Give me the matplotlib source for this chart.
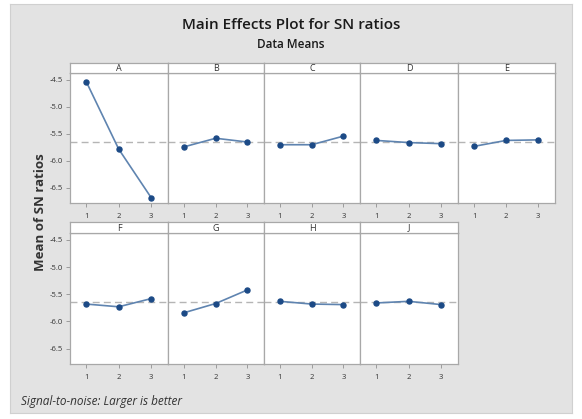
import matplotlib
matplotlib.use("Agg")
import matplotlib.pyplot as plt
from matplotlib.patches import Rectangle

plt.rcParams['font.family'] = ['Open Sans', 'DejaVu Sans']

factors = ["A", "B", "C", "D", "E", "F", "G", "H", "J"]
levels = [1, 2, 3]
A = [-4.53, -5.78, -6.68]
B = [-5.74, -5.58, -5.65]
C = [-5.70, -5.70, -5.54]
D = [-5.62, -5.66, -5.68]
E = [-5.73, -5.62, -5.61]
F = [-5.68, -5.73, -5.58]
G = [-5.84, -5.67, -5.42]
H = [-5.63, -5.68, -5.69]
J = [-5.66, -5.63, -5.69]
series = [A, B, C, D, E, F, G, H, J]
grand_mean = -5.645
yticks = [-4.5, -5.0, -5.5, -6.0, -6.5]
ytick_labels = ["-4.5", "-5.0", "-5.5", "-6.0", "-6.5"]

W, Hh = 582, 419
fig = plt.figure(figsize=(W / 100, Hh / 100), dpi=100)
fig.patch.set_facecolor("white")

def fx(px):
    return px / W

def fy(py):
    return 1 - py / Hh

# gray panel as a background axes
bg = fig.add_axes([fx(10), fy(413), fx(572) - fx(10), fy(4) - fy(413)], zorder=-10)
bg.set_facecolor("#e3e3e3")
bg.set_xticks([])
bg.set_yticks([])
for s in bg.spines.values():
    s.set_color("#d0d0d0")
    s.set_linewidth(0.8)

xedges = [70, 168, 264, 360, 458, 555]
rows = [(62.7, 73.3, 203), (222, 233, 364)]
edge_col = "#a8a8a8"
line_col = "#5f84b0"
mk_col = "#1c4a86"

for i, (name, vals) in enumerate(zip(factors, series)):
    r, c = divmod(i, 5)
    st, top, bot = rows[r]
    x0, x1 = xedges[c], xedges[c + 1]
    ax = fig.add_axes([fx(x0), fy(bot), fx(x1) - fx(x0), fy(top) - fy(bot)])
    ax.set_facecolor("white")
    ax.axhline(grand_mean, color="#b5b5b5", lw=1.0, ls=(0, (5, 3)), zorder=1)
    ax.plot(levels, vals, color=line_col, lw=1.2, zorder=2)
    ax.plot(levels, vals, 'o', color=mk_col, ms=3.6, zorder=3)
    ax.set_xlim(0.5, 3.52)
    ax.set_ylim(-6.78, -4.376)
    ax.set_xticks(levels)
    ax.set_xticklabels([str(l) for l in levels])
    ax.tick_params(axis="x", length=3, width=0.6, color="#909090", labelsize=5.5,
                   labelcolor="#333333", pad=4)
    if c == 0:
        ax.set_yticks(yticks)
        ax.set_yticklabels(ytick_labels)
        ax.tick_params(axis="y", length=3, width=0.6, color="#909090", labelsize=5.5,
                       labelcolor="#333333", pad=2)
    else:
        ax.set_yticks([])
    for s in ax.spines.values():
        s.set_color(edge_col)
        s.set_linewidth(0.9)
    # strip
    sax = fig.add_axes([fx(x0), fy(top), fx(x1) - fx(x0), fy(st) - fy(top)])
    sax.set_facecolor("white")
    sax.set_xticks([])
    sax.set_yticks([])
    for s in sax.spines.values():
        s.set_color(edge_col)
        s.set_linewidth(0.9)
    sax.text(0.5, 0.45, name, ha="center", va="center", fontsize=6.5,
             color="#333333", transform=sax.transAxes)

fig.text(fx(291), fy(25), "Main Effects Plot for SN ratios", ha="center", va="center",
         fontsize=11, fontweight="semibold", color="#1a1a1a")
fig.text(fx(291), fy(45), "Data Means", ha="center", va="center",
         fontsize=8.5, fontweight="semibold", color="#1a1a1a")
fig.text(fx(40), fy(212), "Mean of SN ratios", ha="center", va="center", rotation=90,
         fontsize=9.5, fontweight="bold", color="#333333")
fig.text(fx(21), fy(401), "Signal-to-noise: Larger is better", ha="left", va="center",
         fontsize=8.5, style="italic", color="#333333")

fig.savefig("out.png", dpi=100, facecolor=fig.get_facecolor())
